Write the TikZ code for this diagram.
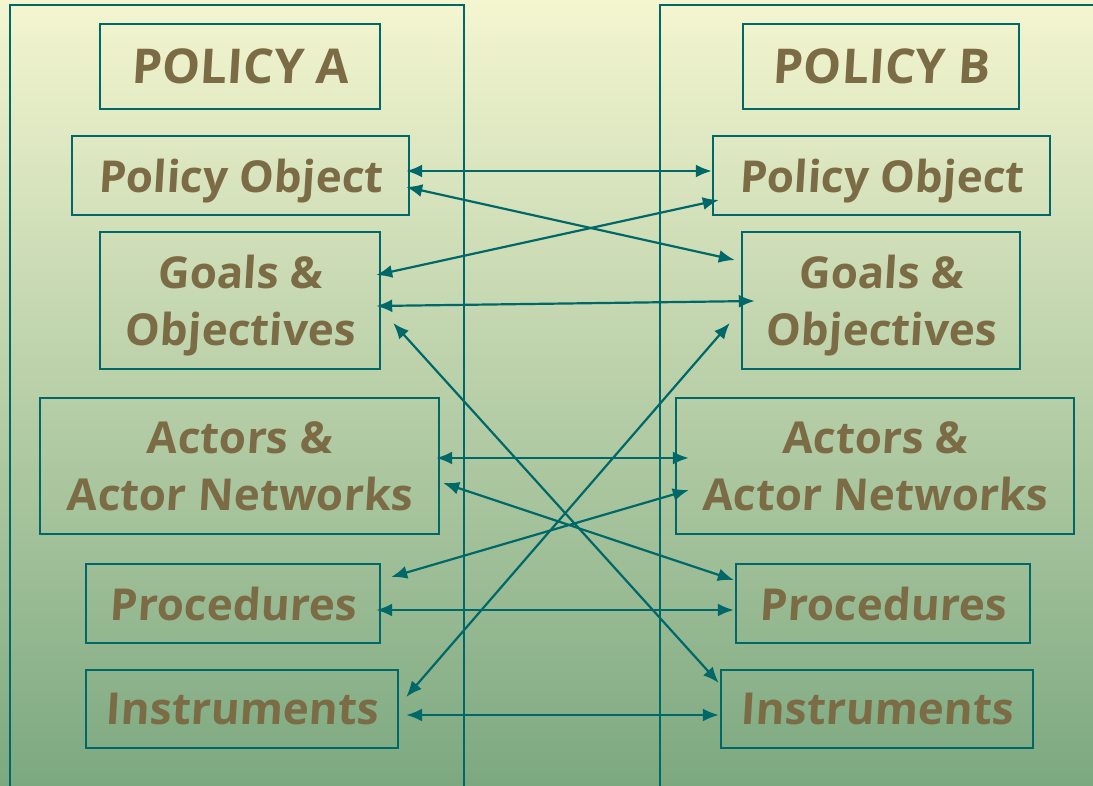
\documentclass[tikz,border=0pt]{standalone}
\usepackage{fontspec}
\newfontfamily\boxfont[FakeSlant=0.06]{Open Sans}
\usepackage{tikz}
\usetikzlibrary{calc,positioning,arrows.meta}

\definecolor{linecol}{RGB}{0,104,104}
\definecolor{txtcol}{RGB}{123,108,70}
\definecolor{bgtop}{RGB}{244,246,208}
\definecolor{bgmid}{RGB}{200,218,172}
\definecolor{bgbot}{RGB}{124,168,128}

\begin{document}
\begin{tikzpicture}[x=1pt,y=-1pt,
  box/.style={draw=linecol,line width=2.4pt,text=txtcol,align=center,inner sep=0pt,text depth=0pt,
    font=\boxfont\bfseries\fontsize{44}{57}\selectfont},
  title/.style={box,font=\boxfont\bfseries\fontsize{48}{60}\selectfont},
  panel/.style={draw=linecol,line width=2pt},
  link/.style={line width=2.2pt,draw=linecol,
    {Latex[length=16pt,width=13pt]}-{Latex[length=16pt,width=13pt]}}]
  \useasboundingbox (0,0) rectangle (1093,786);
  \shade[top color=bgtop,middle color=bgmid,bottom color=bgbot] (0,0) rectangle (1093,786);

  % the two policy panels
  \draw[panel] (10,800) |- (464,5) -- (464,800);
  \draw[panel] (660,800) |- (1100,5);

  % policy A
  \node[title,minimum width=280,minimum height=85] (polA) at (240,66.5) {POLICY A};
  \node[box,minimum width=337,minimum height=79] (objA) at (240.5,175.5) {Policy Object};
  \node[box,minimum width=280,minimum height=137] (goalA) at (240,300.5) {Goals \&\\Objectives};
  \node[box,minimum width=399,minimum height=136] (actA) at (239.5,466) {Actors \&\\Actor Networks};
  \node[box,minimum width=294,minimum height=79] (procA) at (233,603.5) {Procedures};
  \node[box,minimum width=312,minimum height=78] (instA) at (242,709) {Instruments};

  % policy B
  \node[title,minimum width=276,minimum height=85] (polB) at (881,66.5) {POLICY B};
  \node[box,minimum width=337,minimum height=79] (objB) at (881.5,175.5) {Policy Object};
  \node[box,minimum width=278,minimum height=137] (goalB) at (881,300.5) {Goals \&\\Objectives};
  \node[box,minimum width=398,minimum height=136] (actB) at (875,466) {Actors \&\\Actor Networks};
  \node[box,minimum width=294,minimum height=79] (procB) at (883,603.5) {Procedures};
  \node[box,minimum width=312,minimum height=78] (instB) at (877,709) {Instruments};

  % links
  \draw[link] ($(objA.east)+(-4,-4.5)$) -- ($(objB.west)+(0,-4.5)$);
  \draw[link] ($(objA.east)+(-4,11.5)$) -- ($(goalB.west)+(-6,-40.5)$);
  \draw[link] ($(goalA.east)+(-5,-25.5)$) -- ($(objB.west)+(7,24.5)$);
  \draw[link] ($(goalA.east)+(-5,5.5)$) -- ($(goalB.west)+(14,0.5)$);
  \draw[link] ($(goalA.east)+(12,22.5)$) -- ($(instB.west)+(-1,-26)$);
  \draw[link] ($(goalB.west)+(-11,22.5)$) -- ($(instA.east)+(7,-12)$);
  \draw[link] ($(actA.east)+(-4,-8)$) -- ($(actB.west)+(14,-8)$);
  \draw[link] ($(actA.east)+(3,17)$) -- ($(procB.west)+(-1,-23.5)$);
  \draw[link] ($(procA.east)+(10,-26.5)$) -- ($(actB.west)+(14,24)$);
  \draw[link] ($(procA.east)+(-5,6.5)$) -- ($(procB.west)+(-1,6.5)$);
  \draw[link] ($(instA.east)+(7,6)$) -- ($(instB.west)+(-1,6)$);
\end{tikzpicture}
\end{document}
